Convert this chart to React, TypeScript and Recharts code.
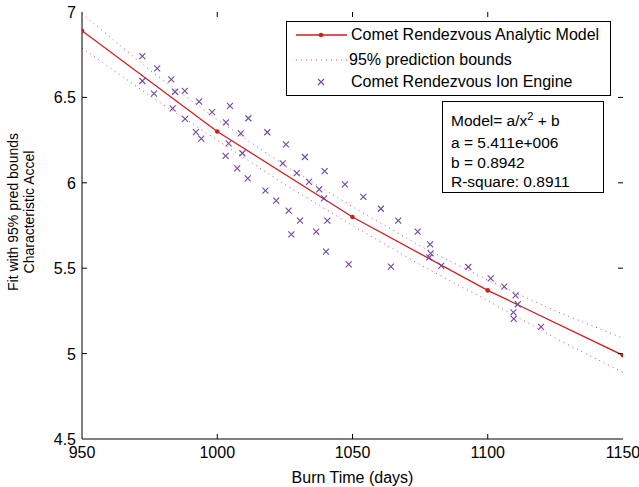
import React from "react";
import {
  ComposedChart,
  Line,
  Scatter,
  XAxis,
  YAxis,
  Legend,
} from "recharts";

// observed ion engine runs (burn time in days, characteristic accel)
const ionDays = [
  972.3, 977.8, 972.3, 976.6, 983.0, 984.4, 988.0, 983.5, 993.3, 988.1,
  998.1, 1004.7, 1003.2, 992.1, 994.1, 1004.2, 1003.1, 1011.5, 1008.7, 1018.5,
  1025.4, 1009.3, 1032.4, 1007.4, 1011.3, 1024.2, 1029.4, 1039.7, 1033.9, 1037.7,
  1039.5, 1047.2, 1054.0, 1060.5, 1066.9, 1017.8, 1021.8, 1026.4, 1030.6, 1040.7,
  1027.4, 1036.6, 1040.2, 1048.6, 1064.2, 1074.1, 1078.7, 1078.9, 1078.4, 1082.8,
  1092.8, 1101.1, 1106.1, 1110.3, 1111.1, 1109.5, 1109.6, 1119.7,
];
const ionAccel = [
  6.742, 6.67, 6.596, 6.522, 6.606, 6.533, 6.538, 6.436, 6.475, 6.374,
  6.414, 6.45, 6.354, 6.297, 6.258, 6.231, 6.157, 6.378, 6.29, 6.296,
  6.225, 6.173, 6.151, 6.085, 6.026, 6.114, 6.056, 6.069, 6.005, 5.962,
  5.909, 5.991, 5.917, 5.848, 5.778, 5.954, 5.895, 5.837, 5.778, 5.778,
  5.698, 5.714, 5.597, 5.523, 5.509, 5.714, 5.64, 5.587, 5.564, 5.513,
  5.507, 5.441, 5.392, 5.341, 5.289, 5.242, 5.203, 5.157,
];

// analytic model a/x^2 + b, read at its markers
const modelDays = [950, 1000, 1050, 1100, 1150];
const modelAccel = [6.89, 6.3, 5.8, 5.37, 4.99];

// 95% prediction bounds
const boundDays = [950, 975, 1000, 1025, 1050, 1075, 1100, 1125, 1150];
const upperBound = [6.99, 6.66, 6.37, 6.1, 5.86, 5.63, 5.43, 5.25, 5.09];
const lowerBound = [6.79, 6.51, 6.25, 5.99, 5.75, 5.52, 5.31, 5.09, 4.89];

const xTicks = [950, 1000, 1050, 1100, 1150];
const yTicks = [4.5, 5, 5.5, 6, 6.5, 7];

const legendLabels = [
  "Comet Rendezvous Analytic Model",
  "95% prediction bounds",
  "Comet Rendezvous Ion Engine",
];
const fitLines = ["a = 5.411e+006", "b = 0.8942", "R-square: 0.8911"];

const ionData = ionDays.map((x, i) => ({ x, y: ionAccel[i] }));
const modelData = modelDays.map((x, i) => ({ x, y: modelAccel[i] }));
const upperData = boundDays.map((x, i) => ({ x, y: upperBound[i] }));
const lowerData = boundDays.map((x, i) => ({ x, y: lowerBound[i] }));

// MATLAB-style inward tick marks on all four sides of the box
const xMin = xTicks[0];
const xMax = xTicks[xTicks.length - 1];
const yMin = yTicks[0];
const yMax = yTicks[yTicks.length - 1];
const innerX = xTicks.slice(1, -1);
const innerY = yTicks.slice(1, -1);
const bottomMarks = innerX.map((x) => ({ x, y: yMin, dx: 0, dy: -1 }));
const topMarks = innerX.map((x) => ({ x, y: yMax, dx: 0, dy: 1 }));
const leftMarks = innerY.map((y) => ({ x: xMin, y, dx: 1, dy: 0 }));
const rightMarks = innerY.map((y) => ({ x: xMax, y, dx: -1, dy: 0 }));
const tickMarks = [...bottomMarks, ...topMarks, ...leftMarks, ...rightMarks];

const FONT = "Arial, 'Liberation Sans', Helvetica, sans-serif";
const RED = "#cc1f1f";
const DOT_RED = "#e04848";
const PURPLE = "#7048a8";
const TICK_LEN = 5;

const Cross = (props: any) => {
  const { cx, cy } = props;
  const s = 3;
  return (
    <path
      d={`M${cx - s},${cy - s}L${cx + s},${cy + s}M${cx - s},${cy + s}L${cx + s},${cy - s}`}
      stroke={PURPLE}
      strokeWidth={1.1}
      fill="none"
    />
  );
};

const TickMark = (props: any) => {
  const { cx, cy, payload } = props;
  const dx = payload ? payload.dx : 0;
  const dy = payload ? payload.dy : 0;
  return (
    <path
      d={`M${cx},${cy}l${dx * TICK_LEN},${dy * TICK_LEN}`}
      stroke="#000"
      strokeWidth={1}
      fill="none"
    />
  );
};

const BottomTick = (props: any) => {
  const { x, y, payload } = props;
  return (
    <text x={x} y={y + 19} textAnchor="middle" fontSize={16} fontFamily={FONT} fill="#000">
      {payload.value}
    </text>
  );
};

const LeftTick = (props: any) => {
  const { x, y, payload } = props;
  return (
    <text x={x - 6} y={y + 6} textAnchor="end" fontSize={16} fontFamily={FONT} fill="#000">
      {payload.value}
    </text>
  );
};

const YLabel = () => (
  <g fontFamily={FONT} fontSize={14} fill="#000">
    <text transform="translate(18,212) rotate(-90)" textAnchor="middle">
      Fit with 95% pred bounds
    </text>
    <text transform="translate(34,212) rotate(-90)" textAnchor="middle">
      Characteristic Accel
    </text>
  </g>
);

const LegendBox = () => {
  const rows = [14, 39, 61];
  return (
    <div
      style={{
        position: "relative",
        width: 325,
        height: 75,
        border: "1px solid #000",
        boxSizing: "border-box",
        background: "#fff",
        fontFamily: FONT,
        fontSize: 16,
        color: "#000",
      }}
    >
      <svg width={325} height={75} style={{ position: "absolute", left: -1, top: -1 }}>
        <line x1={10} y1={rows[0]} x2={61} y2={rows[0]} stroke={RED} strokeWidth={1.3} />
        <circle cx={35} cy={rows[0]} r={2.3} fill={RED} />
        <line x1={10} y1={rows[1]} x2={61} y2={rows[1]} stroke={DOT_RED} strokeDasharray="1 4" />
        <Cross cx={35} cy={rows[2]} />
      </svg>
      {legendLabels.map((label, i) => (
        <div
          key={label}
          style={{
            position: "absolute",
            left: i === 1 ? 62 : 64,
            top: rows[i] - 10,
            lineHeight: "18px",
            whiteSpace: "nowrap",
          }}
        >
          {label}
        </div>
      ))}
    </div>
  );
};

const axisLine = { stroke: "#000" };

export default function App() {
  return (
    <div
      style={{
        position: "absolute",
        left: 0,
        top: 0,
        width: 639,
        height: 487,
        background: "#fff",
      }}
    >
      <ComposedChart
        width={639}
        height={487}
        margin={{ top: 12, right: 16, bottom: 0, left: 0 }}
      >
        <XAxis
          xAxisId="bottom"
          dataKey="x"
          type="number"
          domain={[xMin, xMax]}
          ticks={xTicks}
          interval={0}
          height={48}
          tickSize={0}
          tickMargin={0}
          tick={BottomTick}
          axisLine={axisLine}
          tickLine={false}
          allowDataOverflow
          label={{
            value: "Burn Time (days)",
            position: "insideBottom",
            offset: 4,
            fontSize: 16,
            fontFamily: FONT,
            fill: "#000",
          }}
        />
        <XAxis
          xAxisId="top"
          orientation="top"
          dataKey="x"
          type="number"
          domain={[xMin, xMax]}
          ticks={xTicks}
          height={0}
          tick={false}
          tickLine={false}
          axisLine={axisLine}
          allowDataOverflow
        />
        <YAxis
          yAxisId="left"
          dataKey="y"
          type="number"
          domain={[yMin, yMax]}
          ticks={yTicks}
          interval={0}
          width={82}
          tickSize={0}
          tickMargin={0}
          tick={LeftTick}
          axisLine={axisLine}
          tickLine={false}
          allowDataOverflow
          label={{ content: <YLabel /> }}
        />
        <YAxis
          yAxisId="right"
          orientation="right"
          dataKey="y"
          type="number"
          domain={[yMin, yMax]}
          ticks={yTicks}
          width={0}
          tick={false}
          tickLine={false}
          axisLine={axisLine}
          allowDataOverflow
        />
        <Scatter
          xAxisId="bottom"
          yAxisId="left"
          data={tickMarks}
          dataKey="y"
          shape={<TickMark />}
          isAnimationActive={false}
        />
        <Line
          xAxisId="bottom"
          yAxisId="left"
          data={upperData}
          dataKey="y"
          type="linear"
          stroke={DOT_RED}
          strokeWidth={1}
          strokeDasharray="1 4"
          dot={false}
          isAnimationActive={false}
        />
        <Line
          xAxisId="bottom"
          yAxisId="left"
          data={lowerData}
          dataKey="y"
          type="linear"
          stroke={DOT_RED}
          strokeWidth={1}
          strokeDasharray="1 4"
          dot={false}
          isAnimationActive={false}
        />
        <Scatter
          xAxisId="bottom"
          yAxisId="left"
          data={ionData}
          dataKey="y"
          shape={<Cross />}
          isAnimationActive={false}
        />
        <Line
          xAxisId="bottom"
          yAxisId="left"
          data={modelData}
          dataKey="y"
          type="linear"
          stroke={RED}
          strokeWidth={1.3}
          dot={{ r: 2.3, fill: RED, stroke: RED, strokeWidth: 0 }}
          isAnimationActive={false}
        />
        <Legend
          layout="vertical"
          verticalAlign="middle"
          align="center"
          wrapperStyle={{ left: 286, top: 21, width: 325, height: 75 }}
          content={<LegendBox />}
        />
      </ComposedChart>
      <div
        style={{
          position: "absolute",
          left: 442,
          top: 101,
          width: 162,
          height: 92,
          border: "1px solid #000",
          boxSizing: "border-box",
          background: "#fff",
          fontFamily: FONT,
          fontSize: 15.5,
          color: "#000",
        }}
      >
        <div style={{ position: "absolute", left: 8, top: 10, lineHeight: "18px", whiteSpace: "nowrap" }}>
          Model= a/x<sup style={{ fontSize: 11, verticalAlign: "6px", lineHeight: 0 }}>2</sup> + b
        </div>
        {fitLines.map((t, i) => (
          <div
            key={t}
            style={{
              position: "absolute",
              left: 8,
              top: 32 + i * 19.5,
              lineHeight: "18px",
              whiteSpace: "nowrap",
            }}
          >
            {t}
          </div>
        ))}
      </div>
    </div>
  );
}
